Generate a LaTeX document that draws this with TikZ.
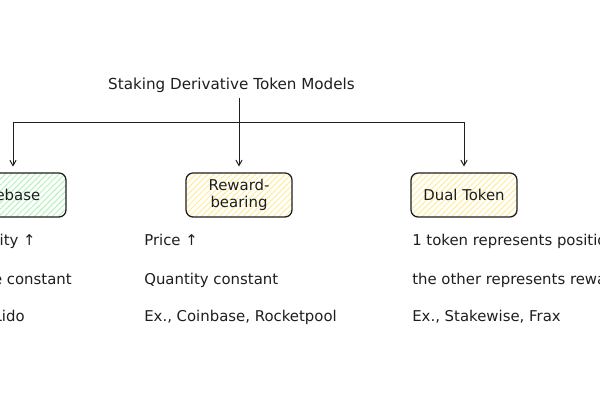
\documentclass[tikz,border=0pt]{standalone}
\usepackage{fontspec}
\setmainfont{DejaVu Sans}
\usepackage{tikz}
\usetikzlibrary{arrows,patterns.meta}

\definecolor{ink}{HTML}{1E1E1E}
\definecolor{mint}{HTML}{B2F2BB}
\definecolor{butter}{HTML}{FFEC99}

\begin{document}
\begin{tikzpicture}[scale=0.25]
\tikzstyle{every node}+=[inner sep=0pt, text=ink, font=\fontsize{10.6}{12.6}\selectfont]
\tikzstyle{model}=[draw=ink, line width=0.9pt, rounded corners=5pt, minimum width=2.65cm, minimum height=1.1cm, align=center]
\tikzstyle{hatch}=[pattern={Lines[angle=45, distance=3pt, line width=0.7pt]}]
\tikzstyle{arr}=[draw=ink, line width=0.7pt, ->, >=angle 60, shorten >=4.2pt]
\useasboundingbox (0,0) rectangle (60,-40);
\clip (0,0) rectangle (60,-40);
\node [anchor=base, font=\fontsize{10.8}{13}\selectfont] (title) at (23.15,-9.0) {Staking Derivative Token Models};
\coordinate (bus) at (23.8,-12.2);
\node [model, hatch, pattern color=mint] (rebase) at (1.3,-19.5) {Rebase};
\node [model, hatch, pattern color=butter] (reward) at (23.9,-19.5) {Reward-\\bearing};
\node [model, hatch, pattern color=butter] (dual) at (46.4,-19.5) {Dual Token};
\draw [arr, shorten <=3pt] (title.south -| reward.north) -- (reward.north);
\draw [arr] (bus) -| (rebase.north);
\draw [arr] (bus) -| (dual.north);
\node [anchor=base east] (qup) at (3.6,-24.6) {Quantity ↑};
\node [anchor=base east] (pconst) at (7.2,-28.5) {Price constant};
\node [anchor=base east] (lido) at (2.5,-32.2) {Ex., Lido};
\node [anchor=base west] (pup) at (14.4,-24.6) {Price ↑};
\node [anchor=base west] (qconst) at (14.4,-28.5) {Quantity constant};
\node [anchor=base west] (rocket) at (14.4,-32.2) {Ex., Coinbase, Rocketpool};
\node [anchor=base west] (position) at (41.2,-24.6) {1 token represents position};
\node [anchor=base west] (rewards) at (41.2,-28.5) {the other represents rewards};
\node [anchor=base west] (frax) at (41.2,-32.2) {Ex., Stakewise, Frax};
\end{tikzpicture}
\end{document}
